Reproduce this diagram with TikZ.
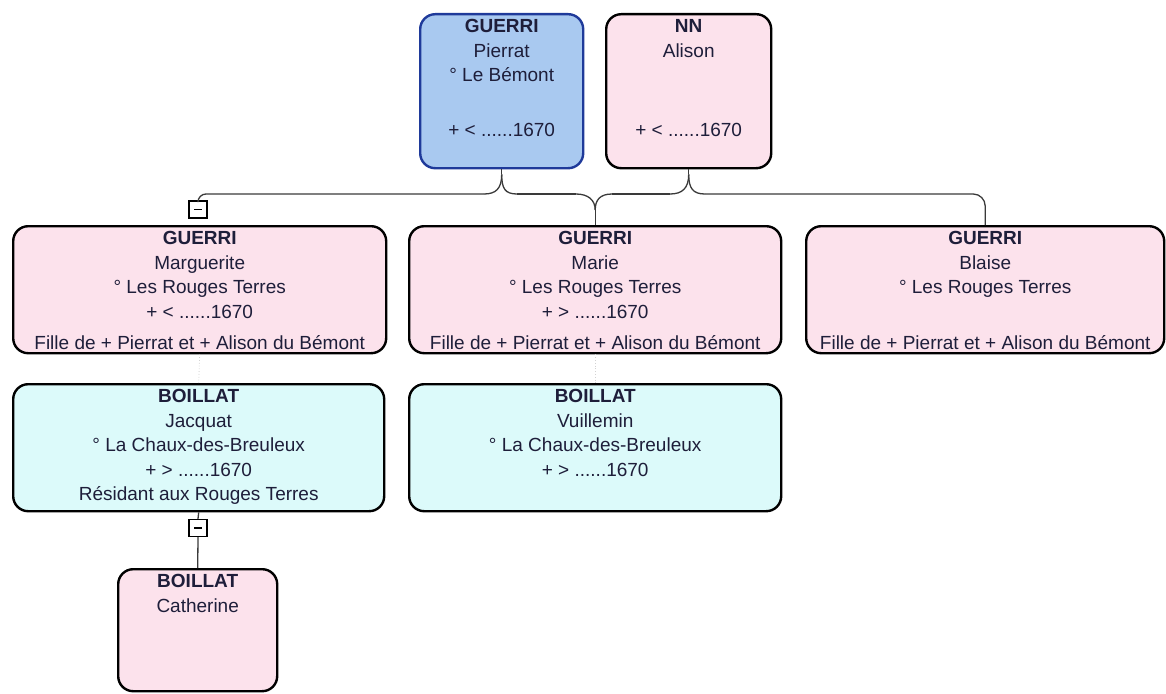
\documentclass[tikz,border=0pt]{standalone}
\usepackage{fontspec}
\setmainfont{Liberation Sans}
\usetikzlibrary{calc}
\definecolor{pinkf}{HTML}{FCE2EC}
\definecolor{cyanf}{HTML}{DCFAFA}
\definecolor{bluef}{HTML}{A9C9F0}
\definecolor{blueb}{HTML}{1F3A9A}
\definecolor{txtc}{HTML}{1E1E3A}
\definecolor{linec}{HTML}{3A3A3A}
\begin{document}
\begin{tikzpicture}[x=1pt,y=-1pt,
  person/.style={draw=black, line width=2.4pt, rounded corners=15pt, anchor=north west, inner sep=0pt},
  pinkbox/.style={person, fill=pinkf},
  cyanbox/.style={person, fill=cyanf},
  bluebox/.style={person, fill=bluef, draw=blueb},
  txt/.style={text=txtc, font=\fontsize{19}{24.5}\selectfont, align=center, inner sep=0pt, anchor=north},
  bottxt/.style={text=txtc, font=\fontsize{19}{24.5}\selectfont, inner sep=0pt, anchor=base},
  conn/.style={draw=linec, line width=1.3pt},
  faint/.style={draw=gray!35, line width=0.8pt, dotted},
  minusbox/.style={draw=black, line width=1.4pt, fill=white, minimum width=18pt, minimum height=17pt, inner sep=0pt}
]
\useasboundingbox (0,0) rectangle (1166,693);
\newcommand{\fl}{\rule{0pt}{14pt}}

% parents
\node[bluebox, minimum width=163pt, minimum height=154pt] (pierrat) at (419,13) {};
\node[txt] (pierratT) at ($(pierrat.north)+(0,5.5)$) {\fl\textbf{GUERRI}\\Pierrat\\° Le Bémont};
\node[bottxt] (pierratD) at ($(pierrat.south)+(0,-32.5)$) {+ < ......1670};

\node[pinkbox, minimum width=165pt, minimum height=154pt] (alison) at (605,13) {};
\node[txt] (alisonT) at ($(alison.north)+(0,5.5)$) {\fl\textbf{NN}\\Alison};
\node[bottxt] (alisonD) at ($(alison.south)+(0,-32.5)$) {+ < ......1670};

% children
\node[pinkbox, minimum width=373pt, minimum height=127pt] (marg) at (12,225) {};
\node[txt] (margT) at ($(marg.north)+(0,5.5)$) {\fl\textbf{GUERRI}\\Marguerite\\° Les Rouges Terres\\+ < ......1670};
\node[bottxt] (margF) at ($(marg.south)+(0,-4.5)$) {Fille de + Pierrat et + Alison du Bémont};

\node[pinkbox, minimum width=372pt, minimum height=127pt] (marie) at (408,225) {};
\node[txt] (marieT) at ($(marie.north)+(0,5.5)$) {\fl\textbf{GUERRI}\\Marie\\° Les Rouges Terres\\+ > ......1670};
\node[bottxt] (marieF) at ($(marie.south)+(0,-4.5)$) {Fille de + Pierrat et + Alison du Bémont};

\node[pinkbox, minimum width=358pt, minimum height=127pt] (blaise) at (805,225) {};
\node[txt] (blaiseT) at ($(blaise.north)+(0,5.5)$) {\fl\textbf{GUERRI}\\Blaise\\° Les Rouges Terres};
\node[bottxt] (blaiseF) at ($(blaise.south)+(0,-4.5)$) {Fille de + Pierrat et + Alison du Bémont};

% spouses
\node[cyanbox, minimum width=371pt, minimum height=127pt] (jacquat) at (12,383) {};
\node[txt] (jacquatT) at ($(jacquat.north)+(0,5.5)$) {\fl\textbf{BOILLAT}\\Jacquat\\° La Chaux-des-Breuleux\\+ > ......1670\\Résidant aux Rouges Terres};

\node[cyanbox, minimum width=372pt, minimum height=127pt] (vuil) at (408,383) {};
\node[txt] (vuilT) at ($(vuil.north)+(0,5.5)$) {\fl\textbf{BOILLAT}\\Vuillemin\\° La Chaux-des-Breuleux\\+ > ......1670};

% grandchild
\node[pinkbox, minimum width=159pt, minimum height=122pt] (cath) at (117,568) {};
\node[txt] (cathT) at ($(cath.north)+(0,5.5)$) {\fl\textbf{BOILLAT}\\Catherine};

% collapse boxes
\node[minusbox] (mb1) at (198,209.5) {\rule{8pt}{1.8pt}};
\node[minusbox] (mb2) at (198,528) {\rule{8pt}{1.8pt}};

% family line coordinates
\coordinate (pL) at (484,194);
\coordinate (pR) at (517,194);
\coordinate (pS) at ($(pierrat.south)+(0,5)$);
\coordinate (aL) at (670,194);
\coordinate (aR) at (705,194);
\coordinate (aS) at ($(alison.south)+(0,5)$);
\coordinate (mL) at (576,194);
\coordinate (mR) at (612,194);
\coordinate (mT) at ($(marie.north)+(0,-15)$);

\draw[conn, rounded corners=8pt] (mb1.north) |- (pL);
\draw[conn] (pierrat.south) -- (pS);
\draw[conn] (pL) .. controls +(12,0) and +(0,14) .. (pS);
\draw[conn] (pR) .. controls +(-12,0) and +(0,14) .. (pS);
\draw[conn] (pR) -- (mL);
\draw[conn] (mL) .. controls +(12,0) and +(0,-10) .. (mT);
\draw[conn] (mR) .. controls +(-12,0) and +(0,-10) .. (mT);
\draw[conn] (mT) -- (marie.north);
\draw[conn] (mR) -- (aL);
\draw[conn] (alison.south) -- (aS);
\draw[conn] (aL) .. controls +(12,0) and +(0,14) .. (aS);
\draw[conn] (aR) .. controls +(-12,0) and +(0,14) .. (aS);
\draw[conn, rounded corners=12pt] (aR) -| (blaise.north);

\draw[conn] (jacquat.south) -- (mb2.north);
\draw[conn] (mb2.south) -- (cath.north);

\draw[faint] (marg.south) -- (jacquat.north);
\draw[faint] (marie.south) -- (vuil.north);
\end{tikzpicture}
\end{document}
